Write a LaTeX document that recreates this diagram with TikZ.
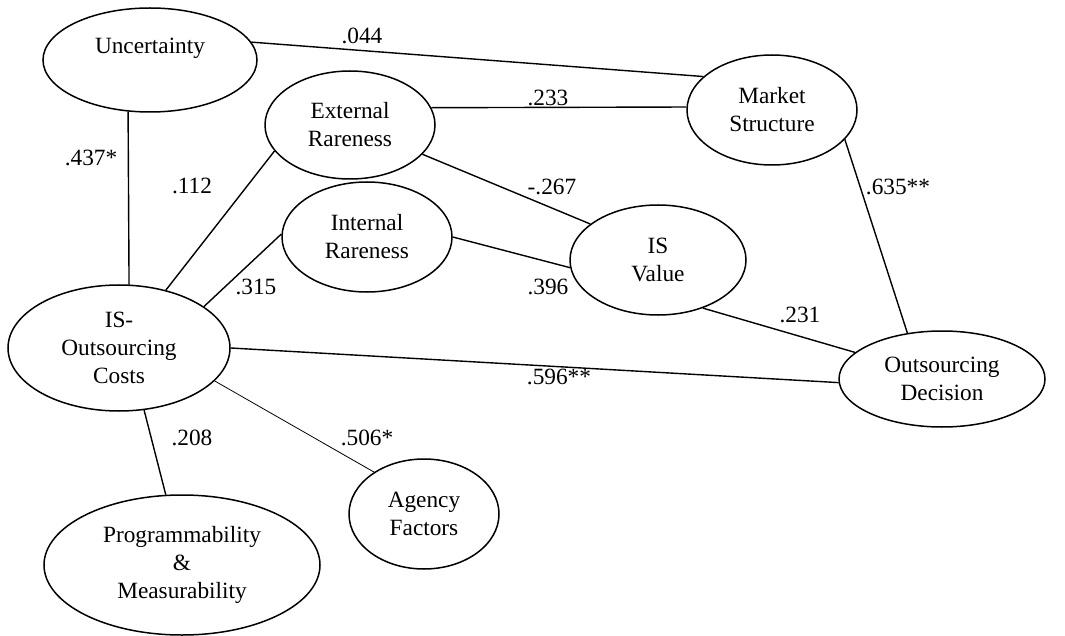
\documentclass[tikz,border=0pt]{standalone}
\usepackage{fontspec}
\setmainfont{Liberation Serif}
\usetikzlibrary{shapes.geometric}
\begin{document}
\begin{tikzpicture}[x=0.5pt,y=-0.5pt,
  every node/.style={font=\fontsize{11.65}{14}\selectfont},
  ell/.style={ellipse, draw, line width=0.75pt, inner sep=0pt, align=center},
  conn/.style={line width=0.7pt},
  thinconn/.style={line width=0.4pt},
  lbl/.style={inner sep=0pt}]
\useasboundingbox (0,0) rectangle (1065,636);
% constructs
\node[ell, minimum width=214pt*0.5, minimum height=104pt*0.5] (unc) at (150,60) {Uncertainty\\\mbox{}};
\node[ell, minimum width=170pt*0.5, minimum height=108pt*0.5] (ext) at (350,125) {External\\Rareness};
\node[ell, minimum width=170pt*0.5, minimum height=110pt*0.5] (int) at (367,237) {Internal\\Rareness};
\node[ell, minimum width=222pt*0.5, minimum height=126pt*0.5] (isoc) at (119,348) {IS-\\Outsourcing\\Costs};
\node[ell, minimum width=276pt*0.5, minimum height=140pt*0.5] (prog) at (182,565) {Programmability\\\&\\Measurability};
\node[ell, minimum width=150pt*0.5, minimum height=110pt*0.5] (agen) at (424,514) {Agency\\Factors};
\node[ell, minimum width=170pt*0.5, minimum height=110pt*0.5] (mkt) at (772,110) {Market\\Structure};
\node[ell, minimum width=176pt*0.5, minimum height=110pt*0.5] (isv) at (658,260) {IS\\Value};
\node[ell, minimum width=206pt*0.5, minimum height=96pt*0.5] (dec) at (942,379) {Outsourcing\\Decision};
% connectors
\draw[conn] (unc.10) -- (mkt.154);
\draw[conn] (unc.-113.4) -- (isoc.81.8);
\draw[conn] (ext.12.7) -- (mkt.178);
\draw[conn] (ext.-22.4) -- (isv.152.5);
\draw[conn] (int.0.7) -- (isv.-175.5);
\draw[conn] (isoc.51.8) -- (ext.-161.6);
\draw[conn] (isoc.26.3) -- (int.178.7);
\draw[conn] (isv.-47.4) -- (dec.163.2);
\draw[conn] (mkt.-22) -- (dec.127);
\draw[conn] (isoc.0.5) -- (dec.182.2);
\draw[conn] (isoc.-68.3) -- (prog.103.5);
\draw[thinconn] (isoc.-19.5) -- (agen.140.6);
% coefficients
\node[lbl] (l1) at (362,36) {.044};
\node[lbl] (l2) at (91,158) {.437*};
\node[lbl] (l3) at (548,98) {.233};
\node[lbl] (l4) at (552,187) {-.267};
\node[lbl] (l5) at (548,287) {.396};
\node[lbl] (l6) at (192,186) {.112};
\node[lbl] (l7) at (256,287) {.315};
\node[lbl] (l8) at (800,315) {.231};
\node[lbl] (l9) at (898,187) {.635**};
\node[lbl] (l10) at (559,377) {.596**};
\node[lbl] (l11) at (192,438) {.208};
\node[lbl] (l12) at (367,438) {.506*};
\end{tikzpicture}
\end{document}
